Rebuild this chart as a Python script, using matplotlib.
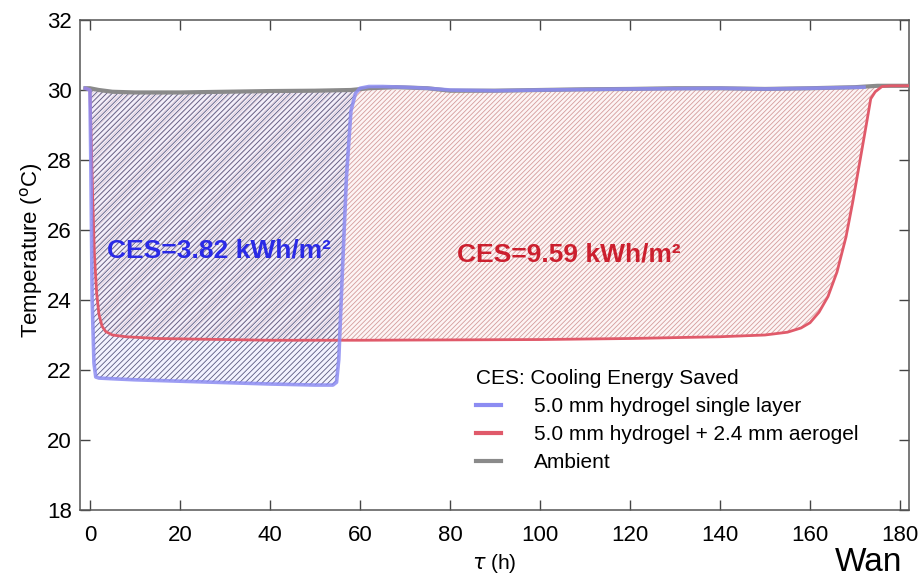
import numpy as np
import matplotlib
matplotlib.use("Agg")
import matplotlib.pyplot as plt
from matplotlib.lines import Line2D

# time (h) and temperature (degC)
ambient_t = [-1, 0, 2, 5, 10, 20, 30, 40, 50, 58, 62, 68, 75, 80, 90, 100, 110,
             120, 130, 140, 150, 160, 170, 175, 182]
ambient_v = [30.05, 30.05, 30.0, 29.95, 29.93, 29.93, 29.95, 29.97, 29.98, 30.0,
             30.05, 30.08, 30.05, 29.98, 29.98, 30.0, 30.02, 30.03, 30.05, 30.05,
             30.03, 30.05, 30.08, 30.12, 30.12]

single_t = [-1, 0, 0.2, 0.5, 0.9, 1.3, 2, 5, 10, 20, 30, 40, 50, 54, 54.8, 55.3,
            56, 57, 58, 59, 60, 62, 65, 70, 75, 80, 90, 100, 120, 140, 150, 160, 172]
single_v = [30.05, 30.0, 28.0, 24.0, 22.2, 21.8, 21.77, 21.75, 21.72, 21.68, 21.64,
            21.6, 21.57, 21.57, 21.65, 22.3, 24.5, 27.5, 29.4, 29.9, 30.05, 30.1,
            30.1, 30.08, 30.05, 30.0, 29.98, 30.0, 30.03, 30.05, 30.03, 30.05, 30.08]

aerogel_t = [-1, 0, 0.3, 0.6, 1.0, 1.5, 2.0, 2.7, 3.5, 5, 8, 15, 25, 40, 60, 80,
             100, 120, 140, 150, 155, 158, 160, 162, 164, 166, 168, 169.5, 171,
             172.5, 173.5, 174.5, 176, 178, 182]
aerogel_v = [30.05, 30.0, 28.5, 27.0, 25.3, 24.2, 23.6, 23.25, 23.1, 23.0, 22.95,
             22.9, 22.88, 22.85, 22.85, 22.86, 22.87, 22.9, 22.95, 23.0, 23.08,
             23.2, 23.35, 23.65, 24.1, 24.8, 25.8, 26.8, 27.9, 29.0, 29.75, 29.95,
             30.1, 30.12, 30.12]

labels = ["5.0 mm hydrogel single layer", "5.0 mm hydrogel + 2.4 mm aerogel", "Ambient"]
ces_single = "CES=3.82 kWh/m\u00b2"
ces_aerogel = "CES=9.59 kWh/m\u00b2"

C_SINGLE = "#8c8cf2"
C_AEROGEL = "#e05a6a"
C_AMB = "#8a8a8a"

plt.rcParams["font.family"] = ["Liberation Sans", "DejaVu Sans"]
plt.rcParams["hatch.linewidth"] = 0.6

fig = plt.figure(figsize=(9.2, 5.8), dpi=100)
ax = fig.add_axes([80 / 920, 1 - 510 / 580, 829 / 920, 490 / 580])

st = np.array(single_t)
at = np.array(aerogel_t)
amb_at_single = np.interp(st, ambient_t, ambient_v)
amb_at_aerogel = np.interp(at, ambient_t, ambient_v)

# hatched areas = cooling energy saved
ax.fill_between(at, aerogel_v, amb_at_aerogel, where=(at >= 0) & (at <= 175),
                facecolor="#fdf5f5", edgecolor="#d49c9c", hatch="///////",
                linewidth=0, zorder=1)
ax.fill_between(st, single_v, amb_at_single, where=(st >= 0) & (st <= 60),
                facecolor=(0.92, 0.92, 1.0, 0.6), edgecolor="#5a5a80", hatch="//////",
                linewidth=0, zorder=2)

ax.plot(ambient_t, ambient_v, color=C_AMB, lw=3, zorder=3)
ax.plot(aerogel_t, aerogel_v, color=C_AEROGEL, lw=2, zorder=4)
ax.plot(single_t, single_v, color=C_SINGLE, lw=2.6, alpha=0.85, zorder=5)

ax.text(3.8, 25.4, ces_single, color="#2a2ae6", fontsize=19, fontweight="bold",
        va="center", ha="left", zorder=6)
ax.text(81.5, 25.3, ces_aerogel, color="#cc1f2e", fontsize=19, fontweight="bold",
        va="center", ha="left", zorder=6)

ax.set_xlim(-2.2, 182)
ax.set_ylim(18, 32)
ax.set_xticks(np.arange(0, 181, 20))
ax.set_yticks(np.arange(18, 33, 2))
ax.tick_params(direction="in", top=True, right=True, length=7, width=1,
               color="#444444", labelsize=16)
ax.tick_params(axis="x", pad=11)
ax.tick_params(axis="y", pad=6)
for sp in ax.spines.values():
    sp.set_color("#555555")
    sp.set_linewidth(1.1)

ax.set_ylabel("Temperature ($^{\\mathrm{o}}$C)", fontsize=16)
ax.yaxis.set_label_coords(-0.042, 0.53)
ax.set_xlabel("$\\tau$ (h)", fontsize=15)
ax.xaxis.set_label_coords(0.5, -0.085)

handles = [Line2D([], [], color=C_SINGLE, lw=3),
           Line2D([], [], color=C_AEROGEL, lw=3),
           Line2D([], [], color=C_AMB, lw=3)]
leg = ax.legend(handles, labels, title="CES: Cooling Energy Saved", frameon=False,
                fontsize=15, title_fontsize=15, loc="upper left",
                bbox_to_anchor=(476 / 920, 1 - 369 / 580),
                bbox_transform=fig.transFigure, borderpad=0, borderaxespad=0,
                handlelength=1.2, handletextpad=1.6, labelspacing=0.44,
                alignment="left")

fig.text(835 / 920, 9 / 580, "Wan", fontsize=24, ha="left", va="baseline")

fig.savefig("out.png", dpi=100)
